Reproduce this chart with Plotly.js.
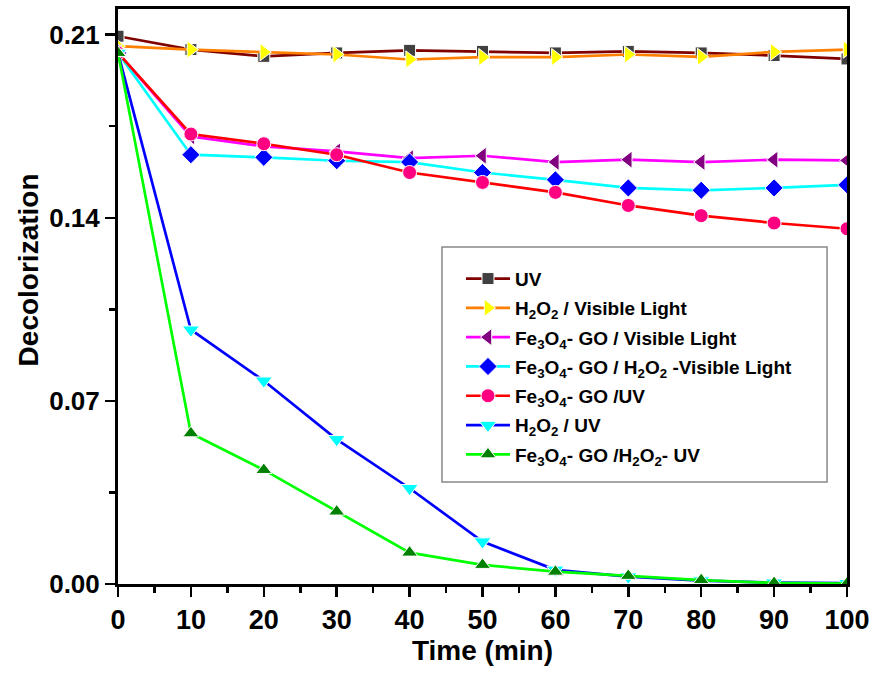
<!DOCTYPE html>
<html>
<head>
<meta charset="utf-8">
<script src="https://cdn.plot.ly/plotly-3.0.1.min.js"></script>
<style>html,body{margin:0;padding:0;background:#fff;}#chart{width:876px;height:677px;}</style>
</head>
<body>
<div id="chart"></div>
<script>
const time = [0, 10, 20, 30, 40, 50, 60, 70, 80, 90, 100];
const uv = [0.2094, 0.2043, 0.2017, 0.2030, 0.2040, 0.2036, 0.2030, 0.2036, 0.2030, 0.2020, 0.2007];
const h2o2Vis = [0.2056, 0.2043, 0.2033, 0.2024, 0.2005, 0.2014, 0.2014, 0.2024, 0.2015, 0.2034, 0.2043];
const goVis = [0.2030, 0.1711, 0.1673, 0.1654, 0.1628, 0.1637, 0.1613, 0.1622, 0.1613, 0.1622, 0.1619];
const goH2o2Vis = [0.2030, 0.1641, 0.1631, 0.1618, 0.1613, 0.1573, 0.1545, 0.1514, 0.1505, 0.1514, 0.1526];
const goUv = [0.2030, 0.1720, 0.1683, 0.1641, 0.1573, 0.1535, 0.1497, 0.1447, 0.1408, 0.1380, 0.1358];
const h2o2Uv = [0.2030, 0.0972, 0.0777, 0.0553, 0.0366, 0.0162, 0.0054, 0.0028, 0.0013, 0.0005, 0.0003];
const goH2o2Uv = [0.2030, 0.0576, 0.0436, 0.0277, 0.0120, 0.0073, 0.0047, 0.0031, 0.0015, 0.0004, 0.0002];

const names = [
  "UV",
  "H<sub>2</sub>O<sub>2</sub> / Visible Light",
  "Fe<sub>3</sub>O<sub>4</sub>- GO / Visible Light",
  "Fe<sub>3</sub>O<sub>4</sub>- GO / H<sub>2</sub>O<sub>2</sub> -Visible Light",
  "Fe<sub>3</sub>O<sub>4</sub>- GO /UV",
  "H<sub>2</sub>O<sub>2</sub> / UV",
  "Fe<sub>3</sub>O<sub>4</sub>- GO /H<sub>2</sub>O<sub>2</sub>- UV"
];
const series = [uv, h2o2Vis, goVis, goH2o2Vis, goUv, h2o2Uv, goH2o2Uv];
const xTicks = [0, 10, 20, 30, 40, 50, 60, 70, 80, 90, 100];
const yTicks = [0, 0.07, 0.14, 0.21];
const yTickText = ["0.00", "0.07", "0.14", "0.21"];
const xTitle = "Time (min)";
const yTitle = "Decolorization";

const lineColors = ["#800000", "#FF8000", "#FF00FF", "#00FFFF", "#FF0000", "#0000FF", "#00FF00"];
const markerColors = ["#404040", "#FFFF00", "#800080", "#0000FF", "#FF0080", "#00FFFF", "#008000"];
const symbols = ["square", "triangle-right", "triangle-left", "diamond", "circle", "triangle-down", "triangle-up"];
const sizes = [12, 15, 15, 14, 14, 15, 14];

const traces = series.map((y, i) => ({
  x: time, y: y, name: names[i], type: "scatter", mode: "lines+markers",
  legendgroup: "g" + i,
  line: {color: lineColors[i], width: 2.7},
  marker: {color: markerColors[i], symbol: symbols[i], size: sizes[i], line: {color: "#ffffff", width: 1}}
}));

const font = {family: "Liberation Sans, Arial, sans-serif", color: "#000", weight: "bold"};
const f = s => Object.assign({}, font, {size: s});

const layout = {
  width: 876, height: 677,
  margin: {l: 118, r: 29, t: 9, b: 93},
  paper_bgcolor: "#fff", plot_bgcolor: "#fff",
  showlegend: true,
  shapes: [{
    type: "rect", xref: "paper", yref: "paper", layer: "below",
    x0: 0.4444, x1: 0.9726, y0: 0.1774, y1: 0.586,
    line: {color: "#888", width: 1.5}, fillcolor: "#fff"
  }],
  annotations: [{
    text: yTitle, xref: "paper", yref: "paper", x: -0.123, y: 0.546,
    xanchor: "center", yanchor: "middle", textangle: -90, showarrow: false,
    font: f(28)
  }],
  legend: {
    x: 0.4705, y: 0.564, xanchor: "left", yanchor: "top",
    bgcolor: "rgba(0,0,0,0)", borderwidth: 0,
    traceorder: "grouped", tracegroupgap: 1.6, itemwidth: 44,
    font: f(19)
  },
  xaxis: {
    range: [0, 100], tickvals: xTicks,
    ticks: "outside", ticklen: 10, tickwidth: 2.5, tickcolor: "#000",
    minor: {dtick: 5, ticks: "outside", ticklen: 6, tickwidth: 2.5, tickcolor: "#000"},
    showline: true, linewidth: 3, linecolor: "#000", mirror: true,
    showgrid: false, zeroline: false,
    tickfont: f(27),
    title: {text: xTitle, font: f(28), standoff: 6}
  },
  yaxis: {
    range: [0, 0.2198], tickvals: yTicks, ticktext: yTickText,
    ticks: "outside", ticklen: 10, tickwidth: 2.5, tickcolor: "#000",
    minor: {tickvals: [0.035, 0.105, 0.175], ticks: "outside", ticklen: 6, tickwidth: 2.5, tickcolor: "#000"},
    showline: true, linewidth: 3, linecolor: "#000", mirror: true,
    showgrid: false, zeroline: false,
    tickfont: f(26)
  }
};

Plotly.newPlot("chart", traces, layout, {displayModeBar: false, staticPlot: true});
</script>
</body>
</html>
